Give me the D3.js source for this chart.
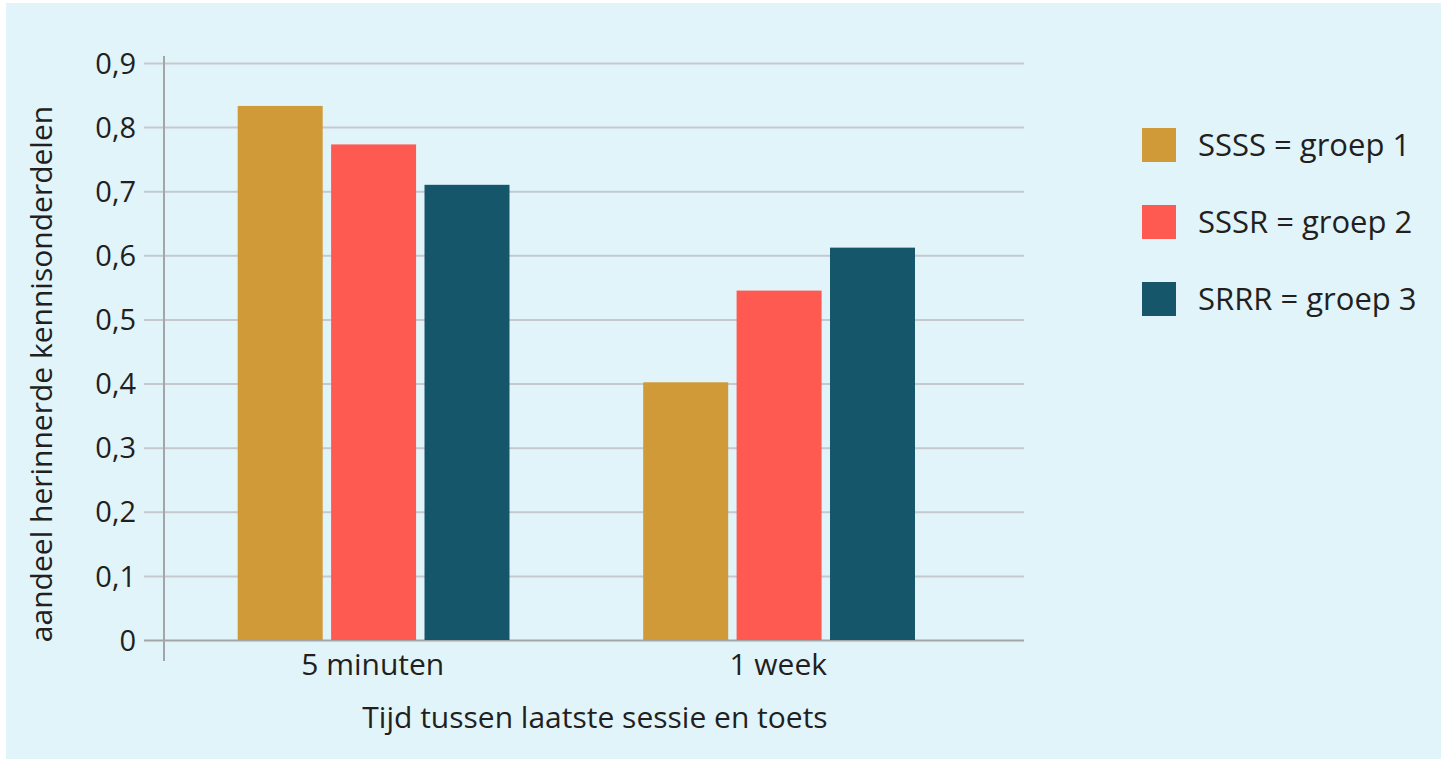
<!DOCTYPE html>
<html>
<head>
<meta charset="utf-8">
<script src="https://cdn.jsdelivr.net/npm/d3@7"></script>
<style>
  body { margin: 0; background: #fff; }
  text { font-family: "Open Sans", sans-serif; fill: #231f20; }
</style>
</head>
<body>
<div id="chart"></div>
<script>
const categories = ["5 minuten", "1 week"];
const groups = ["SSSS = groep 1", "SSSR = groep 2", "SRRR = groep 3"];
const groep1 = [0.833, 0.402];
const groep2 = [0.773, 0.545];
const groep3 = [0.71, 0.612];
const yTicks = [0, 0.1, 0.2, 0.3, 0.4, 0.5, 0.6, 0.7, 0.8, 0.9];
const colors = ["#d19a38", "#ff5a52", "#16566b"];

const width = 1441;
const height = 759;
const margin = { top: 63, right: 417, bottom: 119, left: 164 };

const series = [groep1, groep2, groep3];
const data = categories.map((c, i) => ({
  category: c,
  values: groups.map((g, j) => ({ group: g, value: series[j][i] })),
}));

const svg = d3
  .select("#chart")
  .append("svg")
  .attr("width", width)
  .attr("height", height);

// light blue panel
svg
  .append("rect")
  .attr("x", 6)
  .attr("y", 3)
  .attr("width", width - 6)
  .attr("height", height - 3)
  .attr("fill", "#e1f4f9");

const y = d3
  .scaleLinear()
  .domain([0, 0.9])
  .range([height - margin.bottom, margin.top]);

const x0 = d3.scaleBand().domain(categories).range([170, 981]);
const x1 = d3
  .scaleBand()
  .domain(groups)
  .range([67.7, 339.5])
  .paddingInner(0.09);

// gridlines + y tick labels
const yAxis = svg
  .append("g")
  .attr("transform", `translate(${width - margin.right},0)`)
  .call(
    d3
      .axisLeft(y)
      .tickValues(yTicks)
      .tickSize(880)
      .tickPadding(8)
      .tickFormat((d) => d3.format(".1f")(d).replace(".", ",").replace(/^0,0$/, "0"))
  );
yAxis.select(".domain").remove();
yAxis
  .selectAll("line")
  .attr("stroke", (d) => (d === 0 ? "#a3a5a8" : "#c5c9cd"))
  .attr("stroke-width", 2);
yAxis
  .selectAll("text")
  .attr("fill", "#231f20")
  .attr("dy", "0.35em")
  .style("font-size", "29px");

// vertical axis line
svg
  .append("line")
  .attr("x1", margin.left)
  .attr("x2", margin.left)
  .attr("y1", 56)
  .attr("y2", 661)
  .attr("stroke", "#a3a5a8")
  .attr("stroke-width", 2);

// bars
svg
  .append("g")
  .selectAll("g")
  .data(data)
  .enter()
  .append("g")
  .attr("transform", (d) => `translate(${x0(d.category)},0)`)
  .selectAll("rect")
  .data((d) => d.values)
  .enter()
  .append("rect")
  .attr("x", (d) => x1(d.group))
  .attr("y", (d) => y(d.value))
  .attr("width", x1.bandwidth())
  .attr("height", (d) => y(0) - y(d.value))
  .attr("fill", (d, i) => colors[i]);

// x category labels
const xAxis = svg
  .append("g")
  .attr("transform", `translate(0,${y(0)})`)
  .call(d3.axisBottom(x0).tickSize(0).tickPadding(14));
xAxis.select(".domain").remove();
xAxis
  .selectAll("text")
  .attr("fill", "#231f20")
  .style("font-size", "30px");

// axis titles
svg
  .append("text")
  .attr("x", 595)
  .attr("y", 728)
  .attr("text-anchor", "middle")
  .style("font-size", "30px")
  .text("Tijd tussen laatste sessie en toets");

svg
  .append("text")
  .attr("transform", "translate(52,374) rotate(-90)")
  .attr("text-anchor", "middle")
  .style("font-size", "30px")
  .text("aandeel herinnerde kennisonderdelen");

// legend
const legend = svg
  .append("g")
  .selectAll("g")
  .data(groups)
  .enter()
  .append("g")
  .attr("transform", (d, i) => `translate(1142,${128 + i * 77})`);

legend
  .append("rect")
  .attr("width", 34)
  .attr("height", 34)
  .attr("fill", (d, i) => colors[i]);

legend
  .append("text")
  .attr("x", 56)
  .attr("y", 17)
  .attr("dy", "0.35em")
  .style("font-size", "31px")
  .text((d) => d);
</script>
</body>
</html>
